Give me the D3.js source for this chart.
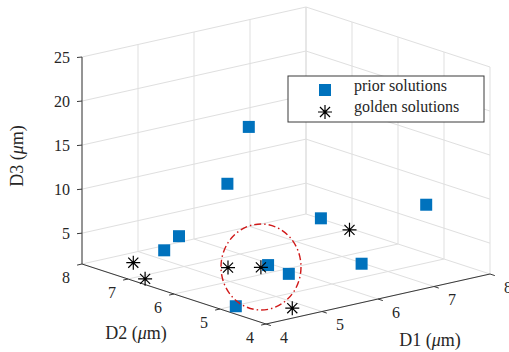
<!DOCTYPE html>
<html>
<head>
<meta charset="utf-8">
<script src="https://cdn.jsdelivr.net/npm/d3@7"></script>
<style>
  body { margin: 0; background: #fff; }
  text { font-family: "Liberation Serif", "Times New Roman", serif; fill: #262626; }
</style>
</head>
<body>
<svg width="509" height="352"></svg>
<script>
// tick values on the three axes
var d1Ticks = [4, 5, 6, 7, 8];
var d2Ticks = [4, 5, 6, 7, 8];
var d3Ticks = [5, 10, 15, 20, 25];

// prior solutions (blue squares)
var priorD1 = [5.5, 5.2, 4.5, 4.4, 4.2, 6.5, 7.6, 5.45, 5.5, 6.2];
var priorD2 = [6.2, 6.3, 6.5, 6.7, 4.9, 5.85, 4.9, 5.72, 5.33, 4.6];
var priorD3 = [18, 11.8, 6.5, 4.7, 1.7, 6.8, 8.4, 3.2, 2.8, 4.2];

// golden solutions (black stars)
var goldenD1 = [4.3, 4.1, 4.8, 5.1, 6.6, 4.65];
var goldenD2 = [7.25, 6.75, 5.8, 5.45, 5.35, 4.22];
var goldenD3 = [2.5, 1.8, 3.7, 3.9, 6.2, 2.0];

var svg = d3.select("svg"),
    width = +svg.attr("width"),
    height = +svg.attr("height");

// oblique view: pixel position of the D1=4,D2=4,D3=min corner and the full-range vectors
var origin = [266, 324],
    e1 = [224, -50],
    e2 = [-184, -60],
    e3 = [0, -207];

var x1 = d3.scaleLinear().domain([4, 8]).range([0, 1]);
var x2 = d3.scaleLinear().domain([4, 8]).range([0, 1]);
var x3 = d3.scaleLinear().domain([1.5, 25]).range([0, 1]);

function proj(a, b, c) {
    var u = x1(a), v = x2(b), w = x3(c);
    return [origin[0] + u * e1[0] + v * e2[0] + w * e3[0],
            origin[1] + u * e1[1] + v * e2[1] + w * e3[1]];
}

var zMin = x3.domain()[0], zMax = x3.domain()[1];

// grid segments: floor, back-left wall (D2=8), back-right wall (D1=8)
var grid = [];
d1Ticks.forEach(function(t) {
    grid.push([proj(t, 4, zMin), proj(t, 8, zMin)]);
    grid.push([proj(t, 8, zMin), proj(t, 8, zMax)]);
});
d2Ticks.forEach(function(t) {
    grid.push([proj(4, t, zMin), proj(8, t, zMin)]);
    grid.push([proj(8, t, zMin), proj(8, t, zMax)]);
});
d3Ticks.forEach(function(t) {
    grid.push([proj(4, 8, t), proj(8, 8, t)]);
    grid.push([proj(8, 8, t), proj(8, 4, t)]);
});

svg.append("g")
    .selectAll("line")
    .data(grid)
    .enter().append("line")
    .attr("x1", function(d) { return d[0][0]; })
    .attr("y1", function(d) { return d[0][1]; })
    .attr("x2", function(d) { return d[1][0]; })
    .attr("y2", function(d) { return d[1][1]; })
    .style("stroke", "#dfdfdf")
    .style("stroke-width", 1);

// axis lines
var axisColor = "#3a3a3a";
var axes = [
    [proj(4, 4, zMin), proj(8, 4, zMin)],
    [proj(4, 8, zMin), proj(4, 4, zMin)],
    [proj(4, 8, zMin), proj(4, 8, zMax)]
];
svg.append("g")
    .selectAll("line")
    .data(axes)
    .enter().append("line")
    .attr("x1", function(d) { return d[0][0]; })
    .attr("y1", function(d) { return d[0][1]; })
    .attr("x2", function(d) { return d[1][0]; })
    .attr("y2", function(d) { return d[1][1]; })
    .style("stroke", axisColor)
    .style("stroke-width", 1);

// D1 ticks + labels
var d1Axis = svg.append("g");
d1Axis.selectAll("line")
    .data(d1Ticks)
    .enter().append("line")
    .attr("x1", function(d) { return proj(d, 4, zMin)[0]; })
    .attr("y1", function(d) { return proj(d, 4, zMin)[1]; })
    .attr("x2", function(d) { return proj(d, 4, zMin)[0] + 4.8; })
    .attr("y2", function(d) { return proj(d, 4, zMin)[1] + 1.6; })
    .style("stroke", axisColor);
d1Axis.selectAll("text")
    .data(d1Ticks)
    .enter().append("text")
    .attr("x", function(d) { return proj(d, 4, zMin)[0] + 18; })
    .attr("y", function(d) { return proj(d, 4, zMin)[1] + 13; })
    .attr("dy", "0.35em")
    .attr("text-anchor", "middle")
    .style("font-size", "16px")
    .text(function(d) { return d; });

// D2 ticks + labels
var d2Axis = svg.append("g");
d2Axis.selectAll("line")
    .data(d2Ticks)
    .enter().append("line")
    .attr("x1", function(d) { return proj(4, d, zMin)[0]; })
    .attr("y1", function(d) { return proj(4, d, zMin)[1]; })
    .attr("x2", function(d) { return proj(4, d, zMin)[0] - 4.9; })
    .attr("y2", function(d) { return proj(4, d, zMin)[1] + 1.1; })
    .style("stroke", axisColor);
d2Axis.selectAll("text")
    .data(d2Ticks)
    .enter().append("text")
    .attr("x", function(d) { return proj(4, d, zMin)[0] - 16; })
    .attr("y", function(d) { return proj(4, d, zMin)[1] + 13; })
    .attr("dy", "0.35em")
    .attr("text-anchor", "middle")
    .style("font-size", "16px")
    .text(function(d) { return d; });

// D3 ticks + labels
var d3Axis = svg.append("g");
d3Axis.selectAll("line")
    .data(d3Ticks)
    .enter().append("line")
    .attr("x1", function(d) { return proj(4, 8, d)[0]; })
    .attr("y1", function(d) { return proj(4, 8, d)[1]; })
    .attr("x2", function(d) { return proj(4, 8, d)[0] - 5; })
    .attr("y2", function(d) { return proj(4, 8, d)[1] + 0.5; })
    .style("stroke", axisColor);
d3Axis.selectAll("text")
    .data(d3Ticks)
    .enter().append("text")
    .attr("x", function(d) { return proj(4, 8, d)[0] - 12; })
    .attr("y", function(d) { return proj(4, 8, d)[1]; })
    .attr("dy", "0.35em")
    .attr("text-anchor", "end")
    .style("font-size", "16px")
    .text(function(d) { return d; });

// axis titles
function axisTitle(g, name) {
    g.append("tspan").text(name + " (");
    g.append("tspan").style("font-style", "italic").text("\u03bc");
    g.append("tspan").text("m)");
}
axisTitle(svg.append("text")
    .attr("x", 430).attr("y", 346)
    .attr("text-anchor", "middle")
    .style("font-size", "18px"), "D1");
axisTitle(svg.append("text")
    .attr("x", 136).attr("y", 339)
    .attr("text-anchor", "middle")
    .style("font-size", "18px"), "D2");
axisTitle(svg.append("text")
    .attr("transform", "translate(23,156) rotate(-90)")
    .attr("text-anchor", "middle")
    .style("font-size", "18px"), "D3");

// markers
var blue = "#0072BD";
var prior = priorD1.map(function(d, i) { return proj(d, priorD2[i], priorD3[i]); });
var golden = goldenD1.map(function(d, i) { return proj(d, goldenD2[i], goldenD3[i]); });

function starPath(r) {
    var s = r * 0.72;
    return "M" + (-r) + ",0L" + r + ",0M0," + (-r) + "L0," + r +
        "M" + (-s) + "," + (-s) + "L" + s + "," + s +
        "M" + (-s) + "," + s + "L" + s + "," + (-s);
}

svg.append("g")
    .selectAll("rect")
    .data(prior)
    .enter().append("rect")
    .attr("x", function(d) { return d[0] - 6; })
    .attr("y", function(d) { return d[1] - 6; })
    .attr("width", 12)
    .attr("height", 12)
    .style("fill", blue);

svg.append("g")
    .selectAll("path")
    .data(golden)
    .enter().append("path")
    .attr("transform", function(d) { return "translate(" + d[0] + "," + d[1] + ")"; })
    .attr("d", starPath(7))
    .style("fill", "none")
    .style("stroke", "#000")
    .style("stroke-width", 1.2);

// highlighted region
svg.append("ellipse")
    .attr("cx", 261)
    .attr("cy", 267)
    .attr("rx", 40)
    .attr("ry", 43)
    .style("fill", "none")
    .style("stroke", "#d01818")
    .style("stroke-width", 1.4)
    .style("stroke-dasharray", "7,3,1.5,3");

// legend
var legend = svg.append("g").attr("transform", "translate(288,76)");
legend.append("rect")
    .attr("width", 196)
    .attr("height", 46)
    .style("fill", "#fff")
    .style("stroke", "#3a3a3a")
    .style("stroke-width", 1);
legend.append("rect")
    .attr("x", 31).attr("y", 8)
    .attr("width", 12).attr("height", 12)
    .style("fill", blue);
legend.append("path")
    .attr("transform", "translate(37,36)")
    .attr("d", starPath(7))
    .style("fill", "none")
    .style("stroke", "#000")
    .style("stroke-width", 1.2);
legend.append("text")
    .attr("x", 66).attr("y", 15)
    .style("font-size", "16px")
    .text("prior solutions");
legend.append("text")
    .attr("x", 66).attr("y", 36)
    .style("font-size", "16px")
    .text("golden solutions");
</script>
</body>
</html>
